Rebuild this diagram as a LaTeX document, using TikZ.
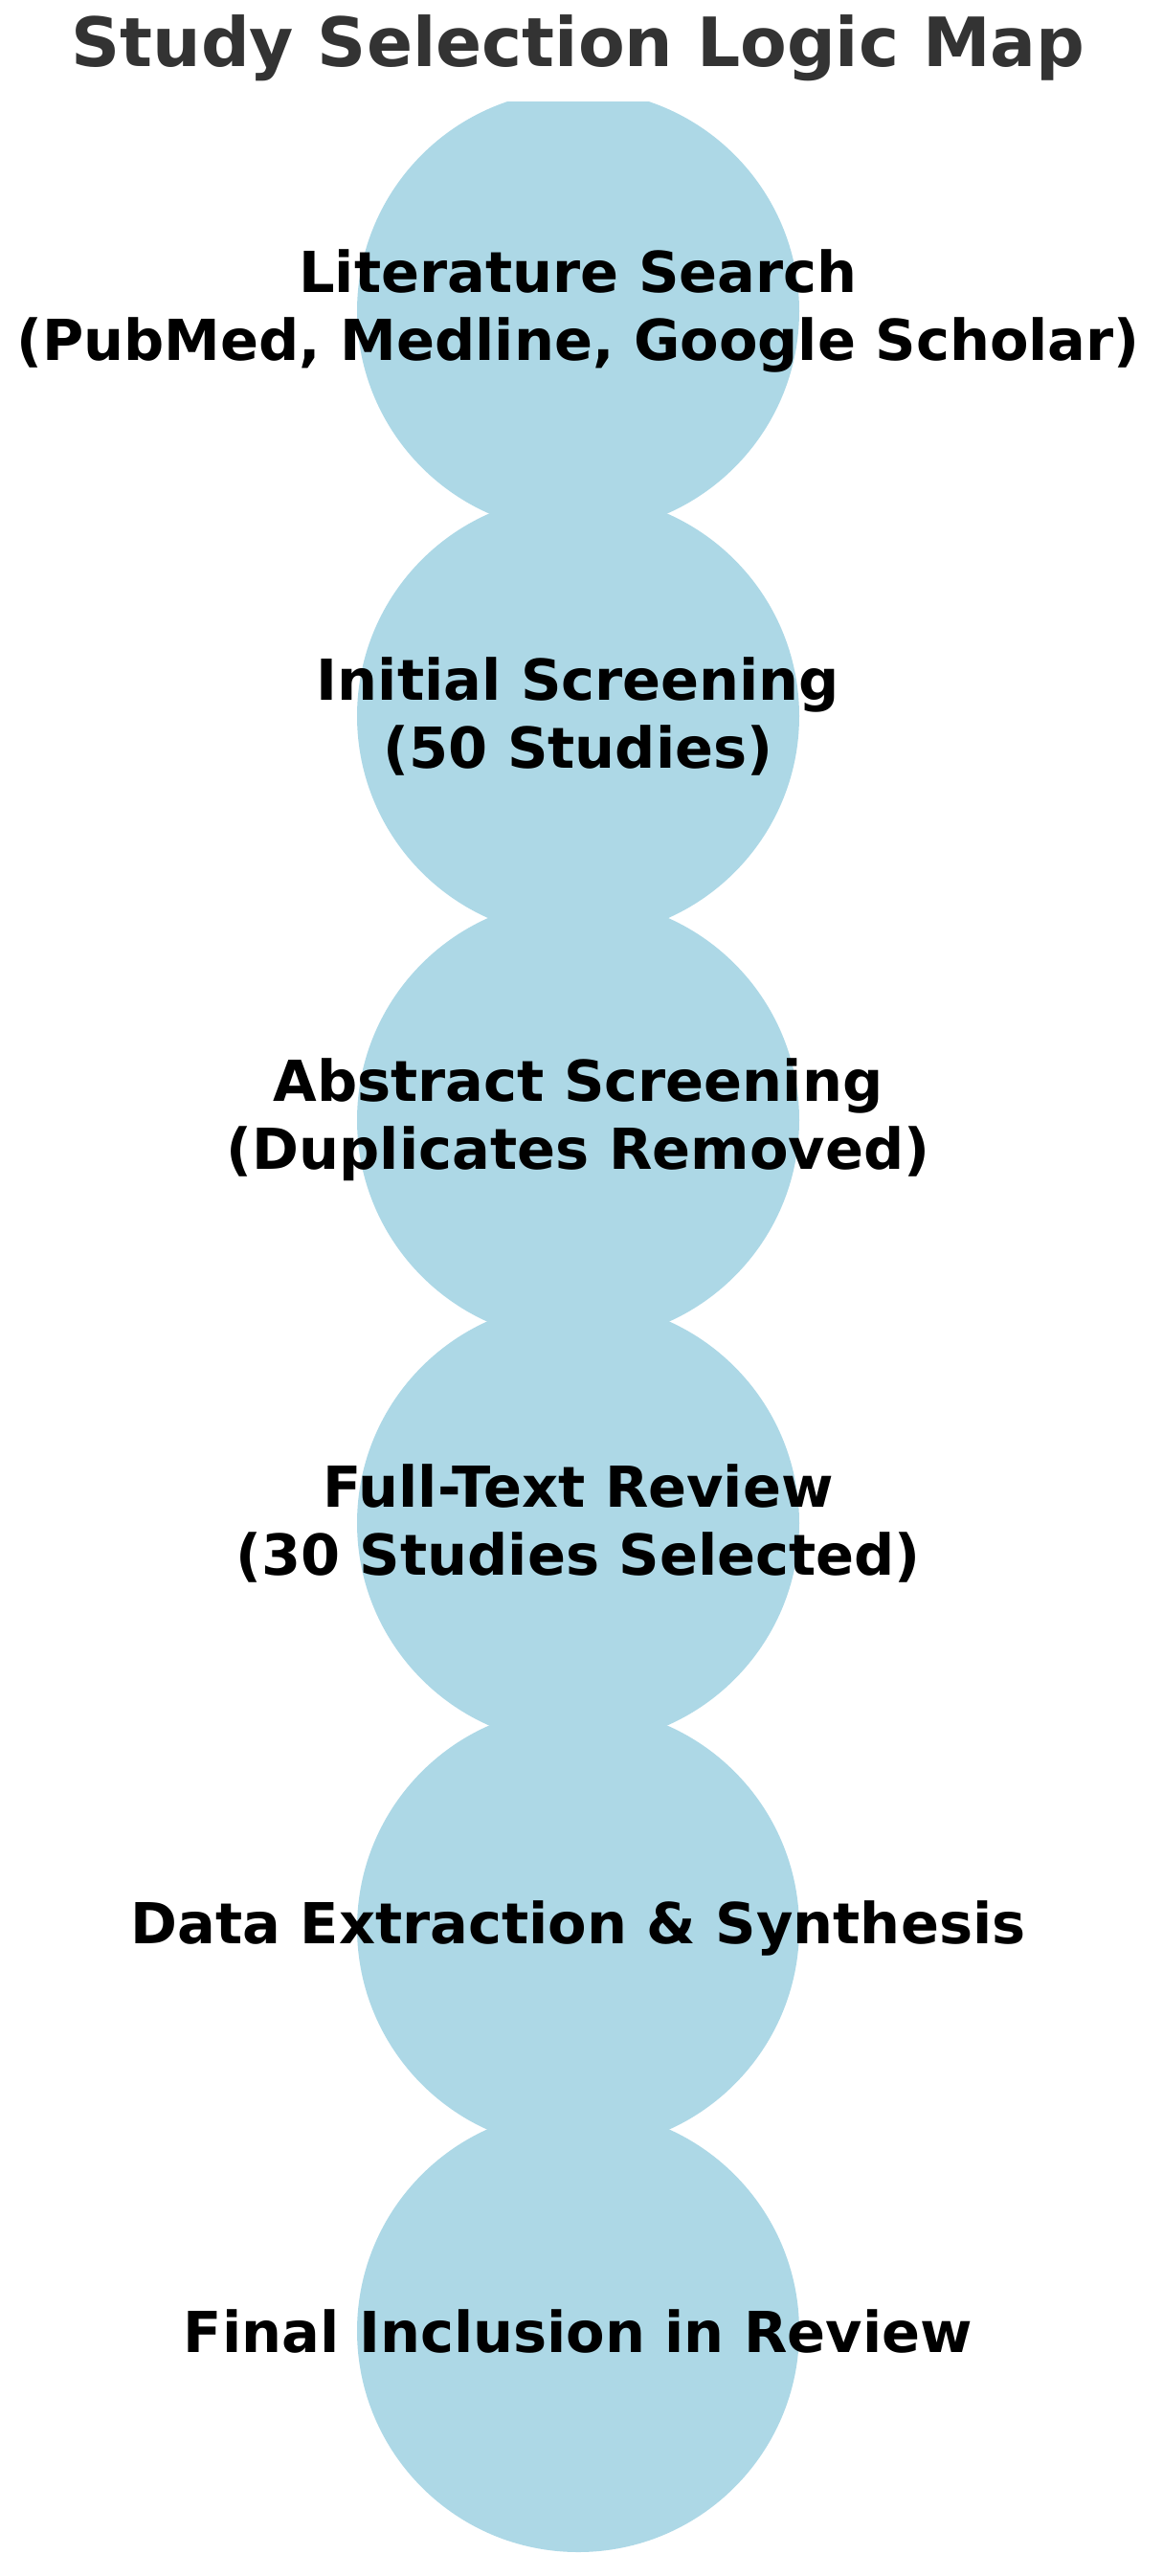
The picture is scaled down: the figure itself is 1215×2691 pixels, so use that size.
\documentclass[tikz,border=0pt]{standalone}
\usepackage{fontspec}
\setmainfont{DejaVu Sans}
\begin{document}
\begin{tikzpicture}[x=1pt,y=-1pt,
  stage/.style={circle,fill=lb,minimum size=462pt,inner sep=0pt},
  lab/.style={font=\fontsize{59}{71}\selectfont\bfseries,align=center,text=black}]
\definecolor{lb}{HTML}{ADD8E6}
\useasboundingbox (0,0) rectangle (1215,2691);
\node[font=\fontsize{71}{84}\selectfont\bfseries,text={rgb,255:red,51;green,51;blue,51}] (title) at (604,50) {Study Selection Logic Map};
\begin{scope}
\clip (0,106) rectangle (1215,2691);
\foreach \i/\y in {1/325,2/748,3/1170,4/1591,5/2014,6/2435}
  \node[stage] (c\i) at (604,\y) {};
\end{scope}
\node[lab] (t1) at (c1) {Literature Search\\(PubMed, Medline, Google Scholar)};
\node[lab] (t2) at (c2) {Initial Screening\\(50 Studies)};
\node[lab] (t3) at (c3) {Abstract Screening\\(Duplicates Removed)};
\node[lab] (t4) at (c4) {Full-Text Review\\(30 Studies Selected)};
\node[lab] (t5) at (c5) {Data Extraction \& Synthesis};
\node[lab] (t6) at (c6) {Final Inclusion in Review};
\end{tikzpicture}
\end{document}
